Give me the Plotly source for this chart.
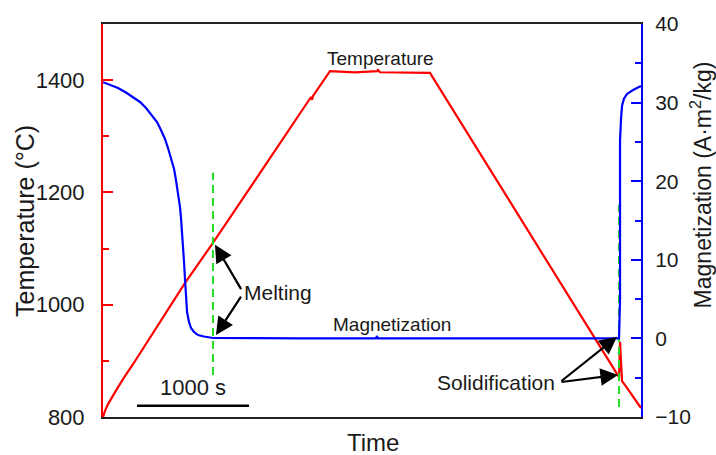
import plotly.graph_objects as go

# ---- data -------------------------------------------------------------
# temperature trace (time in s, temperature in degC)
time_temp = [0, 18, 45, 80, 125, 187, 268, 732, 981, 1490, 1856, 1865, 1874,
             2025, 2248, 2445, 2453, 2471, 2917, 4604, 4613, 4622, 4631,
             4675, 4729, 4800]
temperature = [800, 811, 823, 836, 850, 870, 894, 1039, 1110, 1261, 1370,
               1365, 1372, 1416, 1414, 1416, 1418, 1414, 1413, 871, 934, 898,
               864, 852, 836, 816]

# magnetization trace (time in s, magnetization in A·m²/kg)
time_mag = [0, 62, 134, 205, 268, 330, 384, 437, 482, 517, 553, 580, 607,
            634, 651, 669, 687, 696, 705, 714, 723, 732, 741, 750, 767, 785,
            812, 848, 901, 981, 1758, 2436, 2444, 2453, 3542, 4604, 4613,
            4613, 4613, 4622, 4631, 4648, 4675, 4729, 4800]
magnetization = [32.6, 32.3, 31.86, 31.28, 30.71, 30.08, 29.31, 28.42, 27.53,
                 26.51, 25.37, 24.22, 22.95, 21.55, 20.15, 18.62, 16.71,
                 15.31, 13.79, 11.88, 9.72, 7.43, 5.14, 3.36, 2.09, 1.32,
                 0.81, 0.43, 0.24, 0.05, 0.0, 0.0, 0.3, 0.0, 0.0, 0.0, 4.9,
                 17.6, 25.2, 28.0, 29.6, 30.5, 31.1, 31.6, 32.1]

# melting / solidification onsets (time) and the temperature span of the markers
event_times = [981, 4604]
event_spans = [(875, 1235), (818, 1178)]

# arrows: (tip time, tip temperature, tail time, tail temperature)
melting_arrows = [(999, 1107, 1240, 1025), (1008, 946, 1240, 1017)]
solid_arrows = [(4586, 943, 4077, 862), (4595, 875, 4077, 862)]

scale_bar_start = 303
scale_bar_length = 1000  # seconds

temp_ticks = [800, 1000, 1200, 1400]
mag_ticks = [-10, 0, 10, 20, 30, 40]

# ---- figure -----------------------------------------------------------
FONT = "Liberation Sans, Arial, sans-serif"
RED = "#ff0000"
BLUE = "#0000ff"
GREEN = "#22dd22"

fig = go.Figure()

fig.add_trace(go.Scatter(x=time_temp, y=temperature, mode="lines",
                         line=dict(color=RED, width=2.2), yaxis="y",
                         hoverinfo="skip", showlegend=False))
fig.add_trace(go.Scatter(x=time_mag, y=magnetization, mode="lines",
                         line=dict(color=BLUE, width=2.2), yaxis="y2",
                         hoverinfo="skip", showlegend=False))

for t, (lo, hi) in zip(event_times, event_spans):
    fig.add_trace(go.Scatter(x=[t, t], y=[lo, hi], mode="lines",
                             line=dict(color=GREEN, width=2, dash="8px,5px"),
                             yaxis="y", hoverinfo="skip", showlegend=False))

# scale bar
fig.add_trace(go.Scatter(x=[scale_bar_start, scale_bar_start + scale_bar_length],
                         y=[820, 820], mode="lines",
                         line=dict(color="black", width=2.5), yaxis="y",
                         hoverinfo="skip", showlegend=False))

annotations = []
for tx, ty, ax, ay in melting_arrows + solid_arrows:
    annotations.append(dict(x=tx, y=ty, ax=ax, ay=ay, xref="x", yref="y",
                            axref="x", ayref="y", text="", showarrow=True,
                            arrowhead=2, arrowsize=1.6, arrowwidth=2.2,
                            arrowcolor="black", standoff=0, startstandoff=0))

def label(text, x, y, size):
    return dict(x=x, y=y, xref="x", yref="y", text=text, showarrow=False,
                xanchor="center", yanchor="middle",
                font=dict(family=FONT, size=size, color="#1a1a1a"))

annotations += [
    label("Temperature", 2480, 1439, 19),
    label("Magnetization", 2579, 964, 19),
    label("Melting", 1561, 1021, 21),
    label("Solidification", 3506, 861, 21),
    label("1000 s", scale_bar_start + scale_bar_length / 2, 853, 22),
]

# axis titles
annotations += [
    dict(x=-0.145, y=0.499, xref="paper", yref="paper",
         text="Temperature (°C)", textangle=-90, showarrow=False,
         xanchor="center", yanchor="middle",
         font=dict(family=FONT, size=25, color="#1a1a1a")),
    dict(x=1.112, y=0.59, xref="paper", yref="paper",
         text="Magnetization (A·m<sup>2</sup>/kg)", textangle=-90,
         showarrow=False, xanchor="center", yanchor="middle",
         font=dict(family=FONT, size=23, color="#1a1a1a")),
    dict(x=0.502, y=-0.066, xref="paper", yref="paper", text="Time",
         showarrow=False, xanchor="center", yanchor="middle",
         font=dict(family=FONT, size=24, color="#1a1a1a")),
]

fig.update_layout(
    width=716, height=455,
    margin=dict(l=103, r=75, t=24, b=38),
    paper_bgcolor="white", plot_bgcolor="white",
    font=dict(family=FONT, color="#1a1a1a"),
    annotations=annotations,
    xaxis=dict(range=[0, 4800], showticklabels=False, ticks="",
               showgrid=False, zeroline=False, showline=True,
               linecolor="#222222", linewidth=2, mirror=True),
    yaxis=dict(range=[800, 1500], tickvals=temp_ticks, ticks="inside",
               ticklen=10, tickwidth=2, tickcolor=RED, showgrid=False,
               zeroline=False, showline=True, linecolor=RED, linewidth=2,
               ticklabelstandoff=12,
               tickfont=dict(family=FONT, size=22, color="#1a1a1a"),
               minor=dict(tickvals=[900, 1100, 1300], ticks="inside",
                          ticklen=6, tickwidth=2, tickcolor=RED)),
    yaxis2=dict(range=[-10, 40], tickvals=mag_ticks, ticks="inside",
                ticklen=10, tickwidth=2, tickcolor=BLUE, showgrid=False,
                zeroline=False, showline=True, linecolor=BLUE, linewidth=2,
                overlaying="y", side="right", ticklabelstandoff=8,
                tickfont=dict(family=FONT, size=21, color="#1a1a1a"),
                minor=dict(tickvals=[-5, 5, 15, 25, 35], ticks="inside",
                           ticklen=6, tickwidth=2, tickcolor=BLUE)),
)

fig.write_html("out.html")
